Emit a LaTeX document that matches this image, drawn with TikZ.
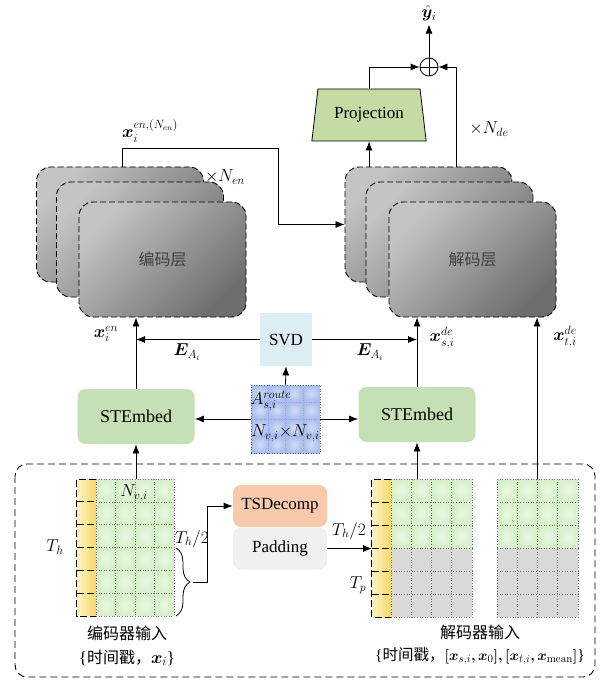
\documentclass[tikz,border=0pt]{standalone}
\usepackage{amsmath}
\usepackage{bm}
\usepackage[no-math]{fontspec}
\setmainfont{Liberation Serif}
\newfontfamily\cjk{Noto Sans CJK SC}
\usetikzlibrary{positioning, arrows.meta, shapes.geometric, decorations.pathreplacing}

\definecolor{boxgreen}{HTML}{C5E0B4}
\definecolor{projgreen}{HTML}{C4DBA3}
\definecolor{svdblue}{HTML}{DCEEF4}
\definecolor{tsdorange}{HTML}{F8C9AB}
\definecolor{padgray}{HTML}{F0F0F0}
\definecolor{lgray}{HTML}{C4C4C4}
\definecolor{dgray}{HTML}{6E6E6E}
\definecolor{cellgreen}{HTML}{D6F0CA}
\definecolor{cellpale}{HTML}{EAF8E3}
\definecolor{cellgray}{HTML}{D9D9D9}
\definecolor{tyellow}{HTML}{F8D867}
\definecolor{pyellow}{HTML}{FDF3C8}
\definecolor{mblue}{HTML}{A9BEEC}
\definecolor{mpale}{HTML}{D2DEF7}

\tikzset{
  layer/.style={draw, dash pattern=on 6pt off 3pt, line width=0.9pt, rounded corners=14pt,
    minimum width=167pt, minimum height=115pt, top color=lgray, bottom color=dgray, shading angle=45},
  embedbox/.style={fill=boxgreen, rounded corners=8pt, minimum width=117pt, minimum height=55pt,
    font=\fontsize{18}{20}\selectfont},
  svdbox/.style={fill=svdblue, minimum width=52pt, minimum height=53pt},
  projbox/.style={draw, fill=projgreen, trapezium, trapezium angle=78, trapezium stretches=true,
    minimum width=115pt, minimum height=52pt},
  sumnode/.style={draw, circle, minimum size=18pt, inner sep=0pt},
  decbox/.style={rounded corners=8pt, minimum width=94pt, minimum height=42pt},
  cjktext/.style={font=\cjk\fontsize{16}{18}\selectfont},
  celldots/.style={dotted, line width=0.6pt, black!55},
  tsdash/.style={dash pattern=on 7pt off 3pt, line width=0.8pt}
}

\begin{document}
\begin{tikzpicture}[x=1pt, y=-1pt, >={Latex[length=9pt,width=7pt]}, line width=0.8pt,
  font=\fontsize{17}{20}\selectfont]
  \useasboundingbox (0,0) rectangle (606,684);

  \draw [dash pattern=on 7pt off 4pt, line width=0.9pt, rounded corners=12pt] (15,464) rectangle (595,677);

  \node [layer] (enc1) at (120,224.5) {};
  \node [layer] (enc2) at (140,239.5) {};
  \node [layer, cjktext, text=black!75] (enc3) at (162.5,259.5) {编码层};
  \node [layer] (dec1) at (428.5,224.5) {};
  \node [layer] (dec2) at (449.5,239.5) {};
  \node [layer, cjktext, text=black!75] (dec3) at (472.5,259.5) {解码层};

  \node [projbox] (proj) at (369,115) {Projection};
  \node [sumnode] (sum) at (429,67) {};
  \draw (sum.north) -- (sum.south) (sum.west) -- (sum.east);
  \node (yhat) at (429,13) {$\hat{\bm{y}}_i$};

  \node [svdbox] (svd) at (286,339.5) {SVD};
  \node [embedbox] (embL) at (136,416.5) {STEmbed};
  \node [embedbox] (embR) at (417,414.5) {STEmbed};

  % adjacency matrix
  \begin{scope}[shift={(251,385)}, x=17.25pt, y=-17pt]
    \foreach \c in {0,...,3}
      \foreach \r in {0,...,3}
        \shade [inner color=mpale, outer color=mblue] (\c,\r) rectangle ++(1,1);
    \foreach \c in {1,2,3}
      \draw [dotted, line width=0.5pt, white!60!blue] (\c,0) -- (\c,4) (0,\c) -- (4,\c);
  \end{scope}
  \node [draw=black!60, dotted, line width=0.6pt, minimum width=69pt, minimum height=68pt, inner sep=0pt] (amat) at (285.5,419) {};
  \node (aroute) at (271,401) {$A_{s,i}^{route}$};
  \node (asize) at (285.5,433) {$N_{v,i}{\times}N_{v,i}$};

  \node [decbox, fill=tsdorange] (tsd) at (280,506) {TSDecomp};
  \node [decbox, fill=padgray] (pad) at (280,548.5) {Padding};

  % encoder input
  \begin{scope}[shift={(96,479)}, x=19.5pt, y=-22.83pt]
    \foreach \c in {0,...,3}
      \foreach \r in {0,...,5}
        \shade [inner color=cellpale, outer color=cellgreen] (\c,\r) rectangle ++(1,1);
    \shade [left color=pyellow, right color=tyellow] (-1,0) rectangle (0,6);
    \foreach \c in {0,...,4}
      \draw [celldots] (\c,0) -- (\c,6);
    \foreach \r in {0,...,6}
      \draw [celldots] (0,\r) -- (4,\r);
    \draw [tsdash] (0,0) -- (-1,0) -- (-1,6) -- (0,6);
    \foreach \r in {1,...,5}
      \draw [tsdash] (-1,\r) -- (0,\r);
  \end{scope}

  % decoder input
  \begin{scope}[shift={(391,479)}, x=20.25pt, y=-23pt]
    \foreach \c in {0,...,3} {
      \foreach \r in {0,1,2}
        \shade [inner color=cellpale, outer color=cellgreen] (\c,\r) rectangle ++(1,1);
      \fill [cellgray] (\c,3) rectangle (\c+1,6);
    }
    \shade [left color=pyellow, right color=tyellow] (-0.95,0) rectangle (0,6);
    \foreach \c in {0,...,4}
      \draw [celldots] (\c,0) -- (\c,6);
    \foreach \r in {0,...,6}
      \draw [celldots] (0,\r) -- (4,\r);
    \draw [tsdash] (0,0) -- (-0.95,0) -- (-0.95,6) -- (0,6);
    \foreach \r in {1,...,5}
      \draw [tsdash] (-0.95,\r) -- (0,\r);
  \end{scope}
  \begin{scope}[shift={(497,479)}, x=20.25pt, y=-23pt]
    \foreach \c in {0,...,3} {
      \foreach \r in {0,1,2}
        \shade [inner color=cellpale, outer color=cellgreen] (\c,\r) rectangle ++(1,1);
      \fill [cellgray] (\c,3) rectangle (\c+1,6);
    }
    \foreach \c in {0,...,4}
      \draw [celldots] (\c,0) -- (\c,6);
    \foreach \r in {0,...,6}
      \draw [celldots] (0,\r) -- (4,\r);
  \end{scope}

  \coordinate (encout) at (122,148);
  \coordinate (encturn) at (278,148);
  \coordinate (decout) at (456,67);
  \coordinate (egtop) at (136,479);
  \coordinate (dgtop) at (417,479);
  \coordinate (rgtop) at (537,479);
  \coordinate (btip) at (193,582);
  \coordinate (bturn) at (207,582);
  \coordinate (dgleft) at (372,548.5);

  \draw [->] (enc1.north -| encout) -- (encout) -- (encturn) |- (dec1.west);
  \draw [->] (dec1.north -| proj.south) -- (proj.south);
  \draw [->] (proj.north) |- (sum.west);
  \draw [->] (dec1.north -| decout) -- (decout) -- (sum.east);
  \draw [->] (sum.north) -- (yhat.south);
  \draw [->] (embL.north) -- (embL.north |- enc3.south);
  \draw [->] (embR.north) -- (embR.north |- dec3.south);
  \draw [->] (svd.west) -- (svd.west -| embL.north);
  \draw [->] (svd.east) -- (svd.east -| embR.north);
  \draw [->] (amat.north) -- (svd.south);
  \draw [->] (amat.west) -- (amat.west -| embL.east);
  \draw [->] (amat.east) -- (amat.east -| embR.west);
  \draw [->] (egtop) -- (embL.south);
  \draw [->] (dgtop) -- (embR.south);
  \draw [->] (rgtop) -- (rgtop |- dec3.south);
  \draw [decorate, decoration={brace, amplitude=14pt}] (176,548) -- (176,616);
  \draw [->] (btip) -- (bturn) |- (tsd.west);
  \draw [->] (pad.east) -- (dgleft);

  \node (encname) at (150,131) {$\bm{x}_i^{en,(N_{en})}$};
  \node (nen) at (225,177) {$\times N_{en}$};
  \node (nde) at (489,129) {$\times N_{de}$};
  \node (xen) at (106,334) {$\bm{x}_i^{en}$};
  \node (eleft) at (187,352) {$\bm{E}_{A_i}$};
  \node (eright) at (370,352) {$\bm{E}_{A_i}$};
  \node (xsde) at (442,338) {$\bm{x}_{s,i}^{de}$};
  \node (xtde) at (565,337) {$\bm{x}_{t,i}^{de}$};
  \node (nvi) at (134,493) {$N_{v,i}$};
  \node (th) at (55,547) {$T_h$};
  \node (thhalfL) at (192,539) {$T_h/2$};
  \node (thhalfR) at (349,531) {$T_h/2$};
  \node (tp) at (358,585) {$T_p$};

  \node [cjktext] (encin) at (127,633) {编码器输入};
  \node (encset) at (127,658) {\{{\cjk\fontsize{16}{18}\selectfont 时间戳，}$\bm{x}_i$\}};
  \node [cjktext] (decin) at (480,632) {解码器输入};
  \node [font=\fontsize{15.5}{18}\selectfont] (decset) at (480,656) {\{{\cjk\fontsize{15.5}{18}\selectfont 时间戳，}$\bm{[}\bm{x}_{s,i}\bm{,}\bm{x}_0\bm{]}\bm{,}\bm{[}\bm{x}_{t,i}\bm{,}\bm{x}_{\mathrm{mean}}\bm{]}$\}};
\end{tikzpicture}
\end{document}
